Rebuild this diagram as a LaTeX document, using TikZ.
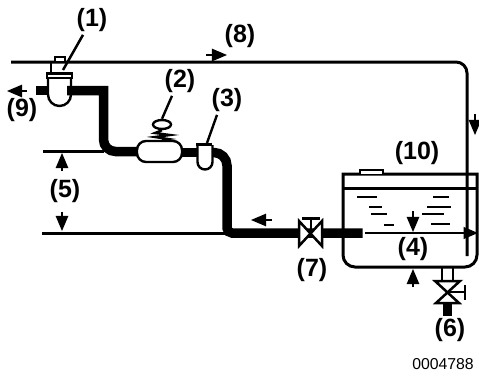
\documentclass[tikz,border=0pt]{standalone}
\usepackage{fontspec}
\setmainfont{Liberation Sans}
\usetikzlibrary{shapes.geometric, arrows}
\tikzstyle{callout} = [font=\fontsize{25}{25}\selectfont\bfseries, inner sep=0pt]
\tikzstyle{partno} = [font=\fontsize{15.8}{16}\selectfont, inner sep=0pt]
\tikzstyle{line} = [line width=3pt]
\tikzstyle{thinline} = [line width=2.4pt]
\tikzstyle{pipe} = [line width=9.5pt]
\tikzstyle{arrow} = [line width=2.6pt, -triangle 45]
\tikzstyle{part} = [line width=2.4pt, draw=black, fill=white]
\begin{document}
\begin{tikzpicture}[x=1pt, y=-1pt]
		\useasboundingbox (0,0) rectangle (479,375);
		% Labels
		\node (L1) [callout] at (92,20) {(1)};
		\node (L2) [callout] at (180,81) {(2)};
		\node (L3) [callout] at (227,100) {(3)};
		\node (L4) [callout] at (413,249) {(4)};
		\node (L5) [callout] at (65,191) {(5)};
		\node (L6) [callout] at (450,330) {(6)};
		\node (L7) [callout] at (312,270) {(7)};
		\node (L8) [callout] at (240,36) {(8)};
		\node (L9) [callout] at (22,110) {(9)};
		\node (L10) [callout] at (417,153) {(10)};
		\node (code) [partno] at (443,364) {0004788};
		% Tank
		\draw [line] (343,174) [rounded corners=12pt] -- (343,267) -- (477,267) [sharp corners] -- (477,174) -- cycle;
		\draw [part, line width=2.5pt] (360,174) -- (360,170) -- (383,170) -- (383,174);
		\draw [line] (343,188) -- (477,188);
		\foreach \xa/\xb/\ya in {357/377/197, 369/382/207, 371/387/214, 384/394/225, 433/449/197, 427/451/207, 422/444/214, 431/450/224}
			\draw [thinline] (\xa,\ya) -- (\xb,\ya);
		\draw [thinline, -triangle 45] (365,233) -- (478,233);
		% Upper line and reference lines
		\draw [line, rounded corners=11pt] (11,62) -- (467,62) -- (467,256);
		\draw [line] (43,151) -- (104,151);
		\draw [line] (42,233) -- (226,233);
		% Pipes
		\coordinate (trap) at (67,90.5);
		\coordinate (elbowA) at (103.5,90.5);
		\coordinate (elbowB) at (103.5,151.5);
		\coordinate (elbowC) at (227,152.5);
		\coordinate (elbowD) at (227,233);
		\coordinate (tankin) at (362.5,233);
		\draw [pipe] (36,90.5) -- (48,90.5);
		\draw [part] (48,76) -- (48,94.5) arc (180:0:11.5) -- (71,76) -- cycle;
		\draw [part] (47,73.5) rectangle (72,78);
		\draw [thinline] (51,73) -- (51,62);
		\draw [part] (55,57) rectangle (65,62);
		\draw [pipe] (trap) [sharp corners] -- (elbowA) [rounded corners=12pt] -- (elbowB) -- (139,151.5);
		\draw [pipe] (180,152.5) -- (198,152.5);
		\draw [pipe] (212,152.5) [rounded corners=13pt] -- (elbowC) [rounded corners=5pt] -- (elbowD) -- (tankin);
		% Vessel and float
		\node (vessel) [part, rounded corners=9pt, minimum width=45pt, minimum height=21pt, inner sep=0pt] at (159.5,151.5) {};
		\node (float) [part, ellipse, minimum width=18pt, minimum height=9pt, inner sep=0pt] at (162,124.5) {};
		\draw [thinline] (float.south) -- (155,133) -- (170,135) -- (155,137) -- (168,139) -- (vessel.north -| float.south);
		\draw [part] (197.5,145) -- (197.5,162) arc (180:0:7.5) -- (212.5,145);
		\draw [line] (196,144) -- (212,144);
		% Valves
		\draw [part, line width=2.5pt] (299,221) -- (299,246) -- (322,221) -- (322,246) -- cycle;
		\draw [thinline] (311,233.5) -- (311,218);
		\draw [line] (302,218) -- (320,218);
		\draw [thinline] (442,267) -- (442,280) (453,267) -- (453,280);
		\draw [pipe] (447.5,302) -- (447.5,316);
		\draw [part, line width=2.5pt] (435,281) -- (460,281) -- (436,303) -- (459,303) -- cycle;
		\draw [thinline] (447.5,292) -- (465,292);
		\draw [line, line width=2.5pt] (465,285) -- (465,300);
		% Leaders
		\draw [line, line width=2.5pt] (L1.south) ++(-9,3) -- (63,70);
		\draw [thinline] (L2.south) ++(-8,3) -- (float.north);
		\draw [thinline] (L3.south) ++(-10,3) -- (207,143);
		% Arrows
		\draw [arrow] (27,91) -- (7,91);
		\draw [arrow] (206,55) -- (227,55);
		\draw [arrow] (272,220) -- (251,220);
		\draw [arrow] (475,114) -- (475,135);
		\draw [arrow] (62,171) -- (62,153);
		\draw [arrow] (62,212) -- (62,231);
		\draw [arrow] (413,211) -- (413,232);
		\draw [arrow] (413,287) -- (413,269);
	\end{tikzpicture}
\end{document}
